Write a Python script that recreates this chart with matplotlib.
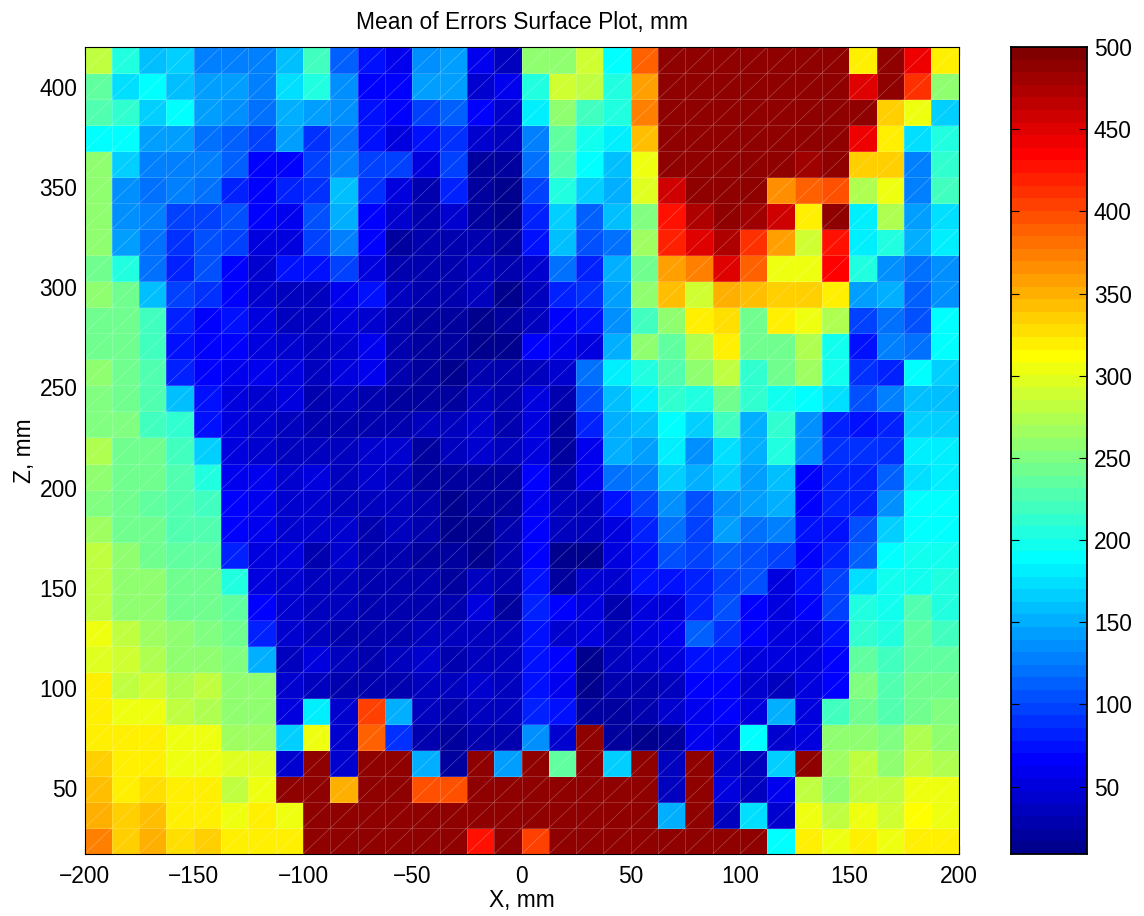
import numpy as np
import matplotlib
matplotlib.use('Agg')
import matplotlib.pyplot as plt
from matplotlib.collections import LineCollection
from matplotlib.colors import ListedColormap

plt.rcParams['font.family'] = ['Liberation Sans', 'DejaVu Sans']

W, H = 1144, 916
D = 490  # saturated cells

x_ticks = [-200, -150, -100, -50, 0, 50, 100, 150, 200]
z_ticks = [50, 100, 150, 200, 250, 300, 350, 400]
cbar_ticks = [50, 100, 150, 200, 250, 300, 350, 400, 450, 500]

x_range = [-200, 200]
z_range = [17, 420]
c_range = [9, 500]

title = 'Mean of Errors Surface Plot, mm'
x_label = 'X, mm'
z_label = 'Z, mm'

# rows run from the top of the plot (z = 420) to the bottom
row01 = [285, 205, 155, 170, 130, 130, 130, 160, 222, 115, 75, 62, 138, 145, 62, 38, 258, 255, 290, 193, 385, D, D, D, D, D, D, D, 316, D, 445, 316]
row02 = [235, 175, 187, 160, 145, 145, 130, 175, 203, 138, 70, 70, 142, 142, 45, 62, 205, 292, 280, 203, 357, D, D, D, D, D, D, D, 448, D, 408, 258]
row03 = [230, 215, 170, 188, 145, 135, 120, 152, 145, 132, 78, 70, 95, 115, 65, 45, 178, 258, 222, 203, 372, D, D, D, D, D, D, D, D, 335, 303, 170]
row04 = [193, 193, 145, 142, 120, 115, 95, 140, 88, 122, 73, 48, 75, 92, 42, 35, 125, 235, 195, 185, 340, D, D, D, D, D, D, D, 439, 316, 175, 203]
row05 = [255, 168, 125, 130, 125, 110, 65, 70, 95, 125, 95, 98, 50, 95, 22, 20, 118, 230, 193, 160, 308, D, D, D, D, D, 480, D, 333, 335, 130, 215]
row06 = [255, 132, 118, 128, 122, 82, 70, 82, 88, 155, 92, 55, 25, 85, 20, 15, 95, 203, 165, 148, 295, 460, 485, D, D, 365, 390, 400, 270, 308, 128, 222]
row07 = [258, 135, 125, 95, 95, 102, 70, 62, 105, 148, 70, 42, 28, 42, 20, 13, 80, 170, 112, 158, 252, 425, 472, 491, 480, 460, 323, 491, 183, 270, 145, 172]
row08 = [255, 145, 120, 88, 105, 95, 52, 55, 95, 130, 70, 22, 28, 30, 28, 20, 72, 155, 105, 118, 268, 418, 447, 470, 415, 357, 292, 425, 185, 205, 153, 180]
row09 = [242, 205, 120, 85, 105, 65, 40, 72, 72, 98, 50, 28, 27, 28, 33, 27, 42, 118, 80, 153, 240, 355, 370, 447, 385, 308, 305, 432, 205, 138, 120, 133]
row10 = [260, 242, 160, 95, 92, 70, 42, 35, 35, 62, 72, 38, 25, 28, 33, 15, 38, 85, 88, 145, 255, 340, 292, 352, 342, 335, 333, 316, 145, 150, 112, 135]
row11 = [245, 245, 222, 85, 70, 72, 52, 38, 35, 48, 42, 28, 22, 22, 14, 20, 38, 65, 78, 135, 218, 258, 316, 328, 245, 316, 305, 272, 98, 118, 105, 193]
row12 = [245, 245, 222, 73, 70, 70, 55, 42, 38, 45, 62, 25, 22, 22, 12, 15, 65, 60, 52, 153, 262, 235, 275, 316, 240, 245, 275, 195, 78, 130, 118, 187]
row13 = [260, 245, 225, 85, 70, 62, 60, 50, 38, 48, 58, 27, 22, 9, 32, 27, 35, 42, 118, 180, 205, 230, 255, 285, 213, 245, 265, 195, 88, 82, 190, 163]
row14 = [252, 245, 228, 158, 75, 55, 45, 48, 32, 35, 25, 20, 22, 17, 35, 28, 50, 27, 105, 155, 180, 215, 208, 245, 210, 200, 188, 175, 102, 130, 155, 160]
row15 = [252, 248, 222, 213, 75, 52, 45, 35, 32, 30, 27, 27, 38, 35, 42, 27, 50, 20, 85, 153, 160, 193, 170, 222, 153, 215, 138, 80, 78, 85, 163, 170]
row16 = [270, 245, 245, 222, 165, 52, 45, 37, 33, 37, 40, 40, 22, 38, 42, 37, 55, 22, 60, 148, 145, 185, 138, 172, 148, 205, 138, 88, 88, 88, 178, 180]
row17 = [255, 245, 240, 225, 208, 62, 60, 45, 48, 38, 42, 38, 22, 20, 17, 20, 65, 25, 60, 118, 125, 165, 148, 165, 145, 155, 70, 85, 85, 110, 175, 178]
row18 = [250, 242, 232, 228, 222, 70, 62, 45, 40, 38, 35, 38, 28, 12, 20, 20, 60, 35, 33, 75, 95, 138, 102, 138, 142, 150, 70, 80, 85, 138, 188, 190]
row19 = [265, 245, 240, 228, 228, 70, 62, 42, 40, 45, 27, 35, 28, 12, 15, 30, 70, 33, 35, 50, 80, 120, 95, 142, 122, 128, 75, 72, 105, 165, 188, 193]
row20 = [282, 255, 245, 232, 232, 85, 55, 50, 30, 45, 27, 30, 22, 22, 12, 28, 70, 15, 15, 55, 72, 105, 95, 112, 108, 100, 70, 82, 112, 188, 195, 195]
row21 = [282, 255, 255, 240, 242, 208, 50, 40, 35, 35, 27, 28, 27, 20, 35, 30, 78, 20, 40, 40, 72, 72, 85, 100, 105, 50, 78, 98, 175, 195, 198, 203]
row22 = [282, 260, 257, 245, 245, 232, 65, 40, 38, 35, 27, 28, 28, 30, 52, 22, 82, 68, 52, 28, 50, 55, 82, 108, 65, 50, 65, 95, 208, 195, 228, 208]
row23 = [308, 282, 268, 260, 248, 242, 85, 42, 35, 32, 27, 32, 35, 35, 38, 35, 72, 45, 52, 35, 52, 62, 115, 92, 70, 50, 55, 72, 215, 205, 235, 218]
row24 = [300, 292, 270, 260, 255, 248, 152, 35, 48, 35, 25, 35, 40, 32, 38, 38, 72, 70, 15, 35, 45, 55, 72, 78, 50, 50, 55, 70, 235, 222, 235, 235]
row25 = [316, 285, 290, 272, 282, 258, 255, 42, 35, 27, 30, 28, 35, 35, 42, 38, 72, 62, 15, 27, 27, 35, 70, 68, 45, 37, 50, 70, 248, 228, 245, 245]
row26 = [316, 307, 302, 282, 272, 260, 262, 50, 180, 45, 403, 152, 38, 27, 38, 35, 80, 72, 20, 22, 25, 45, 62, 70, 48, 152, 48, 222, 245, 230, 245, 252]
row27 = [316, 316, 318, 302, 302, 268, 268, 170, 302, 40, 388, 88, 30, 20, 30, 28, 135, 42, D, 20, 15, 22, 60, 50, 193, 42, 55, 262, 262, 252, 272, 260]
row28 = [338, 316, 316, 307, 302, 295, 297, 40, D, 40, D, D, 148, 20, D, 142, D, 235, D, 170, D, 35, D, 45, 37, 170, D, 268, 282, 257, 285, 272]
row29 = [340, 322, 330, 318, 318, 282, 308, D, D, 352, D, D, 398, 398, D, D, D, D, D, D, D, 38, D, 48, 38, 62, 282, 260, 285, 280, 302, 302]
row30 = [348, 335, 340, 316, 316, 302, 316, 302, D, D, D, D, D, D, D, D, D, D, D, D, D, 152, D, 35, 175, 42, 302, 285, 305, 292, 312, 302]
row31 = [372, 333, 350, 325, 333, 316, 316, 316, D, D, D, D, D, D, 425, D, 403, D, D, D, D, D, D, D, D, 193, 316, 302, 316, 302, 316, 316]

rows = [row01, row02, row03, row04, row05, row06, row07, row08, row09, row10,
        row11, row12, row13, row14, row15, row16, row17, row18, row19, row20,
        row21, row22, row23, row24, row25, row26, row27, row28, row29, row30, row31]


def matlab_jet():
    # matplotlib's jet is not quite the same ramp as the MATLAB one
    i = np.arange(1, 65)
    r = np.clip(np.minimum((i - 24) / 16, (72 - i) / 16), 0, 1)
    g = np.clip(np.minimum((i - 8) / 16, (56 - i) / 16), 0, 1)
    b = np.clip(np.minimum((i + 8) / 16, (40 - i) / 16), 0, 1)
    return ListedColormap(np.column_stack([r, g, b]))


def make_axes(fig, left, top, right, bottom):
    return fig.add_axes([left / W, 1 - bottom / H, (right - left) / W, (bottom - top) / H])


def draw_mesh(ax, errors, cmap):
    x_edges = np.linspace(x_range[0], x_range[1], errors.shape[1] + 1)
    z_edges = np.linspace(z_range[0], z_range[1], errors.shape[0] + 1)

    ax.pcolormesh(x_edges, z_edges, errors, cmap=cmap, vmin=c_range[0], vmax=c_range[1],
                  edgecolors=(1, 1, 1, 0.18), linewidth=0.6, zorder=1)

    # the triangle seams of the surface
    seams = []
    for i in range(len(x_edges) - 1):
        for j in range(len(z_edges) - 1):
            seams.append([(x_edges[i], z_edges[j]), (x_edges[i + 1], z_edges[j + 1])])
    ax.add_collection(LineCollection(seams, colors=[(1, 1, 1, 0.28)], linewidths=0.5, zorder=1.1))


def draw_colorbar(cax, cmap):
    levels = np.linspace(c_range[0], c_range[1], 65)
    cax.pcolormesh([0, 1], levels, ((levels[:-1] + levels[1:]) / 2)[:, None], cmap=cmap,
                   vmin=c_range[0], vmax=c_range[1], zorder=1)
    cax.set_xlim(0, 1)
    cax.set_ylim(c_range)
    cax.set_xticks([])
    cax.set_yticks(cbar_ticks)
    cax.yaxis.tick_right()
    cax.tick_params(axis='y', which='both', direction='in', length=5.8, width=0.8,
                    left=True, right=True, labelsize=16.4, pad=5)
    cax.set_axisbelow(False)
    for s in cax.spines.values():
        s.set_linewidth(1.3)


errors = np.array(rows, dtype=float)[::-1]
cmap = matlab_jet()

fig = plt.figure(figsize=(W / 100, H / 100), dpi=100)
ax = make_axes(fig, 84.5, 47, 958.5, 854)
draw_mesh(ax, errors, cmap)

ax.set_xlim(x_range)
ax.set_ylim(z_range)
ax.set_xticks(x_ticks)
ax.set_yticks(z_ticks)
ax.set_axisbelow(True)  # surface hides the ticks
ax.tick_params(direction='in', length=6, width=0.8, top=True, right=True, labelsize=16.4, pad=8)
ax.tick_params(axis='y', pad=5)
for s in ax.spines.values():
    s.set_linewidth(0.8)
ax.set_title(title, fontsize=16.4, pad=13)
ax.set_xlabel(x_label, fontsize=16.4, labelpad=1)
ax.set_ylabel(z_label, fontsize=16.4, labelpad=3)

cax = make_axes(fig, 1011, 47, 1087, 854)
draw_colorbar(cax, cmap)

fig.savefig('out.png', dpi=100)
